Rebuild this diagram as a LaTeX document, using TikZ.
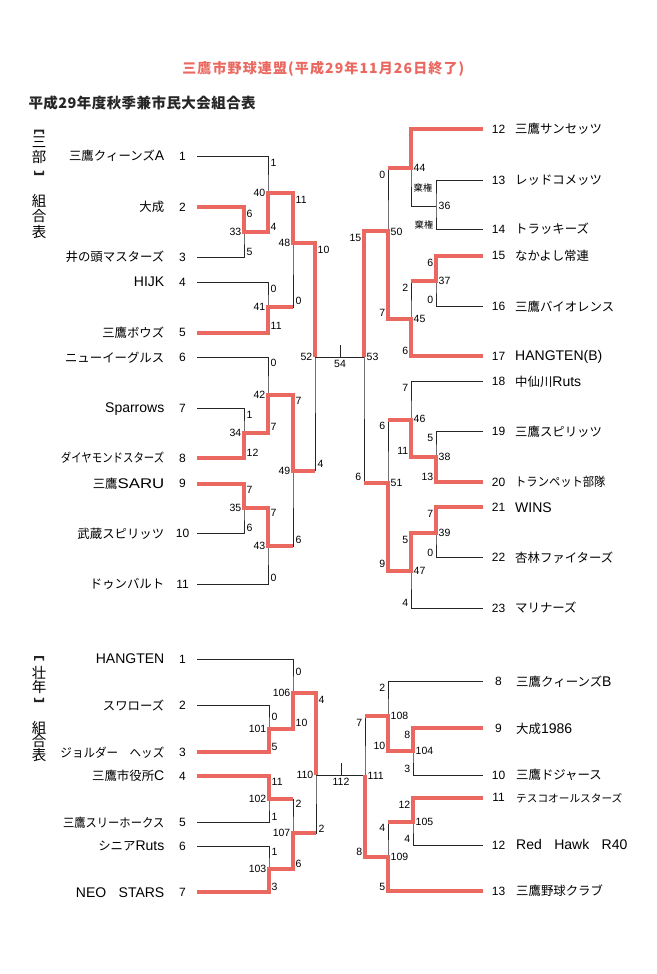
\documentclass[tikz,border=0pt]{standalone}
\usepackage{graphicx}
\usepackage{fontspec}
\setmainfont{Liberation Sans}
\newfontfamily\jpf{Noto Sans CJK JP}[Scale=0.886]
\newfontfamily\jpt{Noto Sans CJK JP}
\newcommand\JP[1]{{\jpf #1}}
\definecolor{rl}{RGB}{234,104,96}
\begin{document}
\begin{tikzpicture}[x=1pt,y=-1pt,
 bl/.style={draw=black!85,line width=0.9pt},
 rd/.style={draw=rl,line width=4pt},
 nm/.style={font=\fontsize{14}{14}\selectfont,inner sep=0,yshift=-4.8pt},
 num/.style={font=\fontsize{12}{12}\selectfont,inner sep=0},
 sc/.style={font=\fontsize{10.5}{10.5}\selectfont,inner sep=0},
 vt/.style={font=\fontsize{14.5}{14.5}\selectfont\jpt,inner sep=0},
 brk/.style={fill=black!85}]
\fill[white] (0,0) rectangle (656,974);
\useasboundingbox (0,0) rectangle (656,974);

% titles
\node[text=rl,inner sep=0,font=\fontsize{14}{14}\selectfont\jpt\bfseries\addfontfeature{LetterSpace=8}] (title) at (323.3,69) {三鷹市野球連盟(平成29年11月26日終了)};
\node[anchor=west,inner sep=0,text=black!85,font=\fontsize{14.5}{14.5}\selectfont\jpt\bfseries\addfontfeature{LetterSpace=3}] (sub) at (28.3,103) {平成29年度秋季兼市民大会組合表};

% vertical labels (brackets drawn as shapes)
\fill[brk] (34,129.5) -- (44,129.5) -- (44,134) -- (42.8,134) -- (42.4,131.6) -- (35.6,131.6) -- (35.2,134) -- (34,134) -- cycle;
\node[vt] (v2) at (39,142) {三};
\node[vt] (v3) at (39,157.5) {部};
\fill[brk] (34,175) -- (44,175) -- (44,170.5) -- (42.8,170.5) -- (42.4,172.9) -- (35.6,172.9) -- (35.2,170.5) -- (34,170.5) -- cycle;
\node[vt] (v5) at (39,201) {組};
\node[vt] (v6) at (39,216.5) {合};
\node[vt] (v7) at (39,231.5) {表};
\fill[brk] (34,656) -- (44,656) -- (44,660.5) -- (42.8,660.5) -- (42.4,658.1) -- (35.6,658.1) -- (35.2,660.5) -- (34,660.5) -- cycle;
\node[vt] (w2) at (39,672.5) {壮};
\node[vt] (w3) at (39,687) {年};
\fill[brk] (34,702) -- (44,702) -- (44,697.5) -- (42.8,697.5) -- (42.4,699.9) -- (35.6,699.9) -- (35.2,697.5) -- (34,697.5) -- cycle;
\node[vt] (w5) at (39,728) {組};
\node[vt] (w6) at (39,741.5) {合};
\node[vt] (w7) at (39,755) {表};

% teams
\foreach \y/\n/\t in {
156/1/{\JP{三鷹クィーンズ}A},
207/2/{\JP{大成}},
257/3/{\JP{井の頭マスターズ}},
282/4/{HIJK},
332.5/5/{\JP{三鷹ボウズ}},
357.5/6/{\JP{ニューイーグルス}},
408/7/{Sparrows},
458/8/{\scalebox{0.84}[1]{\JP{ダイヤモンドスターズ}}},
483.5/9/{\JP{三鷹}\scalebox{1.2}[1]{SARU}},
533.5/10/{\JP{武蔵スピリッツ}},
584/11/{\JP{ドゥンバルト}}}
{
 \node[nm,anchor=base east] (an\n) at (164.5,\y) {\t};
 \node[num] (ak\n) at (182.5,\y) {\n};
 \coordinate (a\n) at (197,\y);
}
\foreach \y/\n/\t in {
129/12/{\JP{三鷹サンセッツ}},
180/13/{\JP{レッドコメッツ}},
229/14/{\JP{トラッキーズ}},
255.5/15/{\JP{なかよし常連}},
306.5/16/{\JP{三鷹バイオレンス}},
356/17/{HANGTEN(B)},
381.5/18/{\JP{中仙川}Ruts},
431.5/19/{\JP{三鷹スピリッツ}},
482/20/{\scalebox{0.91}[1]{\JP{トランペット部隊}}},
507.3/21/{WINS},
557.7/22/{\JP{杏林ファイターズ}},
608/23/{\JP{マリナーズ}}}
{
 \node[nm,anchor=base west] (bn\n) at (515,\y) {\t};
 \node[num] (bk\n) at (498.5,\y) {\n};
 \coordinate (b\n) at (483,\y);
}
\foreach \y/\n/\t in {
659/1/{HANGTEN},
705.7/2/{\JP{スワローズ}},
752.3/3/{\scalebox{0.93}[1]{\JP{ジョルダー　ヘッズ}}},
776/4/{\JP{三鷹市役所}C},
822.7/5/{\scalebox{0.91}[1]{\JP{三鷹スリーホークス}}},
846/6/{\JP{シニア}Ruts},
892.3/7/{NEO\JP{　}STARS}}
{
 \node[nm,anchor=base east] (cn\n) at (164.5,\y) {\t};
 \node[num] (ck\n) at (182.5,\y) {\n};
 \coordinate (c\n) at (197,\y);
}
\foreach \y/\n/\t in {
681.7/8/{\JP{三鷹クィーンズ}B},
728.3/9/{\JP{大成}1986},
775/10/{\JP{三鷹ドジャース}},
797.7/11/{\scalebox{0.86}{\JP{テスコオールスターズ}}},
845/12/{Red\JP{　}Hawk\JP{　}R40},
891/13/{\JP{三鷹野球クラブ}}}
{
 \node[nm,anchor=base west] (dn\n) at (516,\y) {\t};
 \node[num] (dk\n) at (498.5,\y) {\n};
 \coordinate (d\n) at (483,\y);
}

% junctions
\coordinate (m33) at (244,231.5);
\coordinate (m40) at (268,193);
\coordinate (m41) at (268,307);
\coordinate (m48) at (293,243);
\coordinate (m52) at (315,357);
\coordinate (m42) at (268,394.5);
\coordinate (m34) at (244,432.5);
\coordinate (m49) at (293,470.5);
\coordinate (m35) at (244,508);
\coordinate (m43) at (268,546);
\coordinate (m53) at (364,357);
\coordinate (m36) at (436,206);
\coordinate (m44) at (411,168);
\coordinate (m37) at (436,281);
\coordinate (m45) at (411,319);
\coordinate (m50) at (388,231);
\coordinate (m46) at (411,419.5);
\coordinate (m38) at (436,457);
\coordinate (m39) at (436,532.5);
\coordinate (m47) at (411,570.7);
\coordinate (m51) at (388,482.7);
\coordinate (t54) at (340,345);
\coordinate (m101) at (269,728.5);
\coordinate (m106) at (293,693);
\coordinate (m102) at (269,799.3);
\coordinate (m103) at (269,869);
\coordinate (m107) at (293,833.3);
\coordinate (m110) at (316,775.3);
\coordinate (m104) at (413,751);
\coordinate (m108) at (388,716);
\coordinate (m105) at (413,822);
\coordinate (m109) at (388,857);
\coordinate (m111) at (365,775.3);
\coordinate (t112) at (341,763);

% black bracket
\draw[bl] (a2) -| (m33) |- (a3);
\draw[bl] (a1) -| (m40) |- (m33);
\draw[bl] (a4) -| (m41) |- (a5);
\draw[bl] (m40) -| (m48) |- (m41);
\draw[bl] (m48) -| (m52) |- (m49);
\draw[bl] (a6) -| (m42) |- (m34);
\draw[bl] (a7) -| (m34) |- (a8);
\draw[bl] (m42) -| (m49) |- (m43);
\draw[bl] (a9) -| (m35) |- (a10);
\draw[bl] (m35) -| (m43) |- (a11);
\draw[bl] (m52) -- (m53);
\draw[bl] (t54) -- (t54 |- m52);
\draw[bl] (b13) -| (m36) |- (b14);
\draw[bl] (b12) -| (m44) |- (m36);
\draw[bl] (b15) -| (m37) |- (b16);
\draw[bl] (m37) -| (m45) |- (b17);
\draw[bl] (m44) -| (m50) |- (m45);
\draw[bl] (b18) -| (m46) |- (m38);
\draw[bl] (b19) -| (m38) |- (b20);
\draw[bl] (b21) -| (m39) |- (b22);
\draw[bl] (m39) -| (m47) |- (b23);
\draw[bl] (m46) -| (m51) |- (m47);
\draw[bl] (m50) -| (m53) |- (m51);
\draw[bl] (c2) -| (m101) |- (c3);
\draw[bl] (c1) -| (m106) |- (m101);
\draw[bl] (c4) -| (m102) |- (c5);
\draw[bl] (c6) -| (m103) |- (c7);
\draw[bl] (m102) -| (m107) |- (m103);
\draw[bl] (m106) -| (m110) |- (m107);
\draw[bl] (d9) -| (m104) |- (d10);
\draw[bl] (d8) -| (m108) |- (m104);
\draw[bl] (d11) -| (m105) |- (d12);
\draw[bl] (m105) -| (m109) |- (d13);
\draw[bl] (m108) -| (m111) |- (m109);
\draw[bl] (m110) -- (m111);
\draw[bl] (t112) -- (t112 |- m110);

% red winner paths
\draw[rd] (a2) -| (m33) -| (m40) -| (m48) -| (m52);
\draw[rd] (a5) -| (m41) -- (m41 -| m48);
\draw[rd] (a8) -| (m34) -| (m42) -| (m49) -- (m49 -| m52);
\draw[rd] (a9) -| (m35) -| (m43) -- (m43 -| m49);
\draw[rd] (b12) -| (m44) -- (m44 -| m50);
\draw[rd] (b15) -| (m37) -- (m37 -| m45);
\draw[rd] (b17) -| (m45) -| (m50) -| (m53);
\draw[rd] (b20) -| (m38) -| (m46) -- (m46 -| m51);
\draw[rd] (b21) -| (m39) -| (m47) -| (m51) -- (m51 -| m53);
\draw[rd] (c3) -| (m101) -| (m106) -| (m110);
\draw[rd] (c4) -| (m102) -- (m102 -| m107);
\draw[rd] (c7) -| (m103) -| (m107) -- (m107 -| m110);
\draw[rd] (d9) -| (m104) -| (m108) -- (m108 -| m111);
\draw[rd] (d11) -| (m105) -- (m105 -| m109);
\draw[rd] (d13) -| (m109) -| (m111);

% score labels right of lines
\foreach \t/\xv/\y [count=\i] in {
1/268/163, 11/293/200, 6/244/214, 4/268/226.5, 10/315/250, 5/244/251.5, 0/268/288.7, 0/293/300.5, 11/268/326, 0/268/363.3, 7/293/401, 1/244/415, 7/268/426.7, 12/244/452.7, 4/315/464, 7/244/490, 7/268/513.3, 6/244/527.7, 6/293/540, 0/268/577.7,
44/411/167.7, {\JP{棄権}}/411/188.3, 36/436/206, 50/388/231.7, 37/436/281, 45/411/319.3, 53/364/356.7, 46/411/419.3, 38/436/457.3, 51/388/482.7, 39/436/532.7, 47/411/570.7,
0/293/671.7, 4/316/700, 0/269/717.3, 10/293/723.3, 5/269/746.7, 11/269/781.7, 2/293/804, 1/269/816.7, 2/316/829.3, 1/269/852.3, 6/293/864, 3/269/887.3,
108/388/716, 104/413/750.7, 111/365/775.5, 105/413/821.7, 109/388/856.7}
{ \node[sc,anchor=west] (sw\i) at (\xv+2.5,\y) {\t}; }
% score labels left of lines
\foreach \t/\xv/\y [count=\i] in {
40/268/192.5, 33/244/231.5, 48/293/243, 41/268/306.5, 52/315/357, 42/268/395, 34/244/432.7, 49/293/471, 35/244/507.7, 43/268/546,
0/388/175, {\JP{棄権}}/436/225, 15/364/238.3, 6/436/263.3, 2/411/288.3, 0/436/300, 7/388/313.3, 6/411/350.7, 7/411/388.3, 6/388/426, 5/436/438.3, 11/411/450.7, 13/436/476.7, 6/364/476.7, 7/436/514, 5/411/540, 0/436/552.7, 9/388/564, 4/411/602.7,
106/293/693.3, 101/269/729.3, 110/316/775, 102/269/799.3, 107/293/832.7, 103/269/869.3,
2/388/688.3, 7/365/722.7, 8/413/735, 10/388/746, 3/413/769.3, 12/413/805, 4/388/828.3, 4/413/839.3, 8/365/851.7, 5/388/886.7}
{ \node[sc,anchor=east] (se\i) at (\xv-2.5,\y) {\t}; }
\node[sc] (s54) at (340,363.5) {54};
\node[sc] (s112) at (341,781.7) {112};
\end{tikzpicture}
\end{document}
